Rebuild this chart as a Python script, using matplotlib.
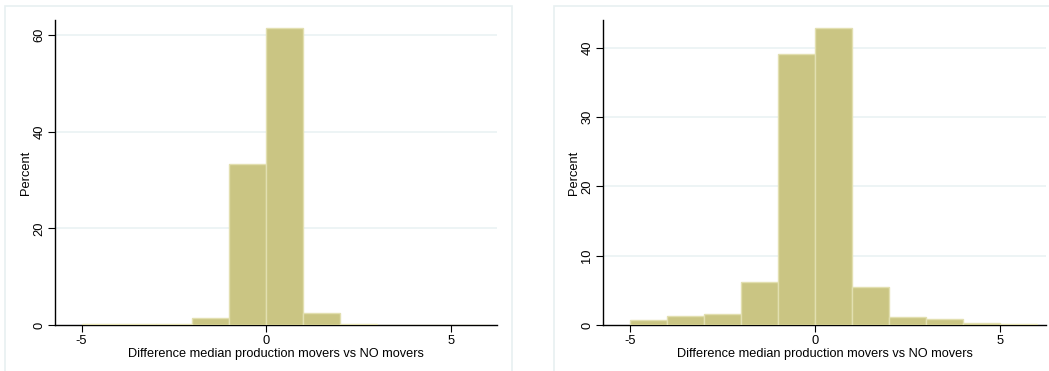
import numpy as np
import matplotlib.pyplot as plt
from matplotlib.patches import Rectangle

# bordes de clase (ancho 1) y porcentajes
bordes = np.arange(-5, 7, 1)
pct_izq = [0.15, 0.15, 0.15, 1.4, 33.3, 61.4, 2.4, 0.15, 0.1, 0.1, 0.1]
pct_der = [0.72, 1.3, 1.55, 6.15, 39.1, 42.8, 5.45, 1.1, 0.82, 0.3, 0.1]

ticks_x = [-5, 0, 5]
ticks_y_izq = [0, 20, 40, 60]
ticks_y_der = [0, 10, 20, 30, 40]
etiqueta_x = 'Difference median production movers vs NO movers'
etiqueta_y = 'Percent'

plt.rcParams['font.family'] = ['Liberation Sans', 'DejaVu Sans']

W, H = 1049, 371
fig = plt.figure(figsize=(W / 100, H / 100), dpi=100)
fig.patch.set_facecolor('white')

# marcos de cada panel (Stata)
for x0, x1 in [(5, 512), (554, 1060)]:
    fig.patches.append(Rectangle((x0 / W, 0 - 0.01), (x1 - x0) / W, (H - 6) / H + 0.01,
                                 transform=fig.transFigure, fill=False,
                                 edgecolor='#e8f0f1', linewidth=1.2))

relleno = '#cac583'
borde = '#e2dfb0'


def panel(pos, valores, yticks, ytop):
    ax = fig.add_axes(pos)
    ax.bar(bordes[:-1], valores, width=1, align='edge', color=relleno,
           edgecolor=borde, linewidth=1, zorder=3)
    ax.set_xlim(-5.72, 6.24)
    ax.set_ylim(0, ytop)
    ax.set_xticks(ticks_x)
    ax.set_xticklabels([str(t) for t in ticks_x])
    ax.set_yticks(yticks)
    ax.set_yticklabels([str(t) for t in yticks], rotation=90, va='center')
    for t in yticks[1:]:
        ax.axhline(t, color='#eaf2f3', linewidth=1.2, zorder=1)
    ax.spines['top'].set_visible(False)
    ax.spines['right'].set_visible(False)
    ax.spines['left'].set_linewidth(1)
    ax.spines['bottom'].set_linewidth(1)
    ax.tick_params(axis='both', length=5, width=0.8, labelsize=9.3, pad=2)
    ax.set_xlabel(etiqueta_x, fontsize=9.2, labelpad=1)
    ax.set_ylabel(etiqueta_y, fontsize=9.3, labelpad=1)
    return ax


panel([55 / W, 46 / H, 442 / W, 305 / H], pct_izq, ticks_y_izq, 63.1)
panel([603 / W, 46 / H, 443 / W, 305 / H], pct_der, ticks_y_der, 44.0)

fig.savefig('out.png', dpi=100)
